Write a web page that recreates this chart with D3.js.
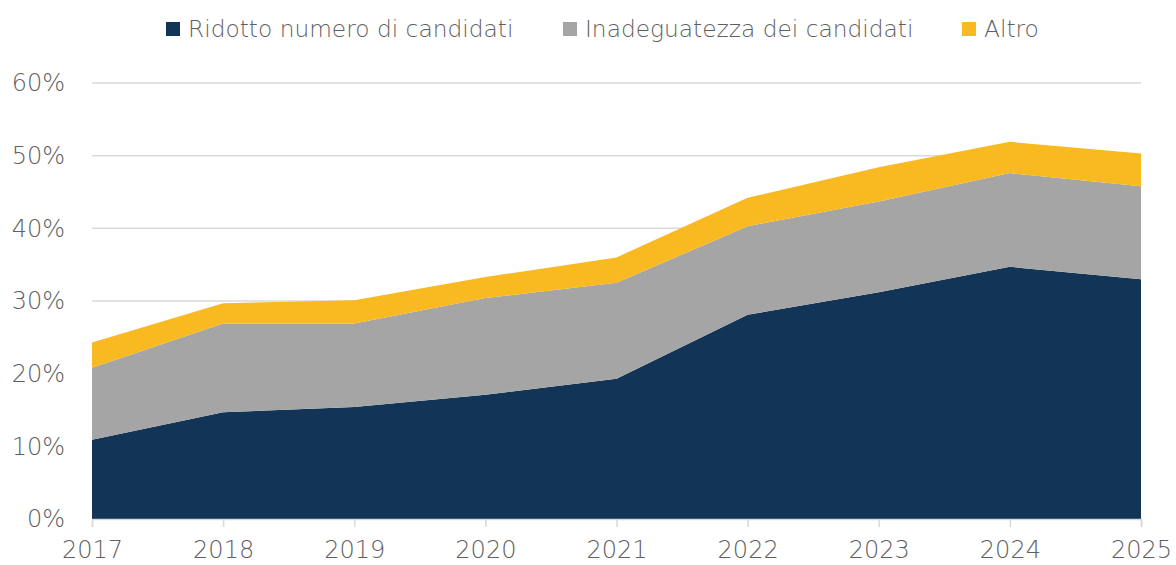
<!DOCTYPE html>
<html>
<head>
<meta charset="utf-8">
<script src="https://cdn.jsdelivr.net/npm/d3@7"></script>
<style>
  body { margin: 0; background: #fff; }
  text { font-family: "DejaVu Sans", sans-serif; }
</style>
</head>
<body>
<div id="chart"></div>
<script>
var anni = [2017, 2018, 2019, 2020, 2021, 2022, 2023, 2024, 2025];
var ridotto = [10.9, 14.7, 15.4, 17.1, 19.3, 28.1, 31.2, 34.7, 33.0];
var inadeguatezza = [9.9, 12.2, 11.5, 13.3, 13.2, 12.2, 12.5, 12.9, 12.8];
var altro = [3.5, 2.8, 3.2, 2.9, 3.5, 3.9, 4.7, 4.3, 4.5];
var serie = ["Ridotto numero di candidati", "Inadeguatezza dei candidati", "Altro"];
var yTicks = [0, 10, 20, 30, 40, 50, 60];

var colori = ["#123557", "#a5a5a5", "#f9b921"];

var W = 1176, H = 565;
var margin = { top: 83, right: 35, bottom: 46, left: 92 };
var width = W - margin.left - margin.right;
var height = H - margin.top - margin.bottom;

var svg = d3.select("#chart").append("svg")
    .attr("width", W)
    .attr("height", H);

var g = svg.append("g")
    .attr("transform", "translate(" + margin.left + "," + margin.top + ")");

var x = d3.scaleLinear().domain([2017, 2025]).range([0, width]);
var y = d3.scaleLinear().domain([0, 60]).range([height, 0]);

// griglia
g.selectAll(".grid")
  .data(yTicks.filter(function(d) { return d > 0; }))
  .enter().append("line")
  .attr("x1", 0).attr("x2", width)
  .attr("y1", function(d) { return y(d); })
  .attr("y2", function(d) { return y(d); })
  .attr("stroke", "#d9d9d9")
  .attr("stroke-width", 1.5);

// dati impilati
var righe = anni.map(function(a, i) {
  return { anno: a, r: ridotto[i], i: inadeguatezza[i], a: altro[i] };
});
var stack = d3.stack().keys(["r", "i", "a"]);
var layers = stack(righe);

var area = d3.area()
  .x(function(d) { return x(d.data.anno); })
  .y0(function(d) { return y(d[0]); })
  .y1(function(d) { return y(d[1]); });

g.selectAll(".layer")
  .data(layers)
  .enter().append("path")
  .attr("d", area)
  .attr("fill", function(d, i) { return colori[i]; });

// asse x
var xAxis = g.append("g")
  .attr("transform", "translate(0," + height + ")")
  .call(d3.axisBottom(x).tickValues(anni).tickFormat(d3.format("d")).tickSize(8).tickPadding(14));
xAxis.select(".domain").attr("stroke", "#d9d9d9").attr("stroke-width", 1.5);
xAxis.selectAll(".tick line").attr("stroke", "#d9d9d9").attr("stroke-width", 1.5);
xAxis.selectAll("text")
  .attr("fill", "#5f5f5f")
  .style("font-size", "24px")
  .style("font-weight", 300);

// asse y
var yAxis = g.append("g")
  .call(d3.axisLeft(y).tickValues(yTicks).tickFormat(function(d) { return d + "%"; }).tickSize(0).tickPadding(27));
yAxis.select(".domain").remove();
yAxis.selectAll("text")
  .attr("fill", "#5f5f5f")
  .style("font-size", "24px")
  .style("font-weight", 300);

// legenda
var legX = [166, 563, 962];
var leg = svg.selectAll(".leg")
  .data(serie)
  .enter().append("g")
  .attr("transform", function(d, i) { return "translate(" + legX[i] + ",22)"; });
leg.append("rect")
  .attr("width", 14).attr("height", 14)
  .attr("fill", function(d, i) { return colori[i]; });
leg.append("text")
  .attr("x", 22).attr("y", 15)
  .attr("fill", "#5f5f5f")
  .style("font-size", "23.3px")
  .style("font-weight", 300)
  .text(function(d) { return d; });
</script>
</body>
</html>
